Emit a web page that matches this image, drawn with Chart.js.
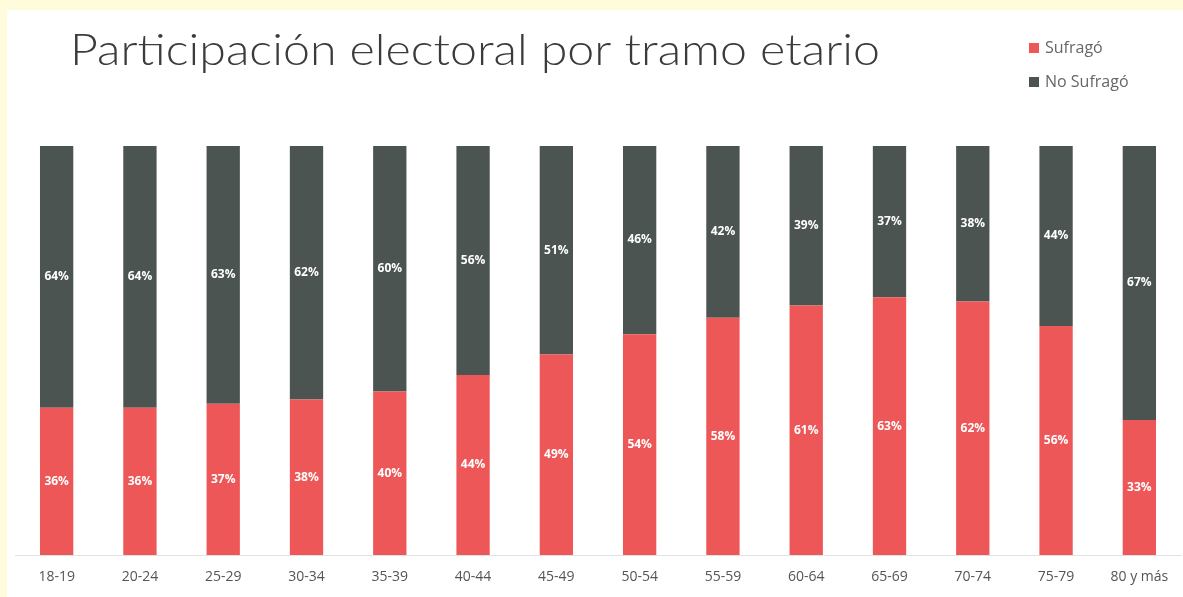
<!DOCTYPE html>
<html>
<head>
<meta charset="utf-8">
<script src="https://cdn.jsdelivr.net/npm/chart.js@4.4.0/dist/chart.umd.min.js"></script>
<style>
  html, body { margin: 0; padding: 0; background: #fffcdc; }
  #wrap { position: relative; width: 1183px; height: 597px; overflow: hidden; }
  #paper { position: absolute; left: 7px; top: 10px; width: 1176px; height: 587px; background: #ffffff; }
  #chart { position: absolute; left: 0; top: 0; }
</style>
</head>
<body>
<div id="wrap">
  <div id="paper"></div>
  <canvas id="chart" width="1183" height="597"></canvas>
</div>
<script>
const titleText = 'Participación electoral por tramo etario';
const ageGroups = ['18-19', '20-24', '25-29', '30-34', '35-39', '40-44', '45-49',
                   '50-54', '55-59', '60-64', '65-69', '70-74', '75-79', '80 y más'];
const voted = [36, 36, 37, 38, 40, 44, 49, 54, 58, 61, 63, 62, 56, 33];
const notVoted = [64, 64, 63, 62, 60, 56, 51, 46, 42, 39, 37, 38, 44, 67];
const seriesNames = ['Sufragó', 'No Sufragó'];

const RED = '#ee5757';
const DARK = '#4b5451';

// title + legend drawn by hand, the built-in ones can't sit where the original has them
const headerPlugin = {
    id: 'header',
    afterDraw(chart) {
        const ctx = chart.ctx;
        ctx.save();
        ctx.fillStyle = '#3b3b3b';
        ctx.font = '300 44px Lato, "Open Sans", sans-serif';
        ctx.textBaseline = 'alphabetic';
        ctx.textAlign = 'left';
        // original face is wider than Lato, stretch to the same span
        const w = ctx.measureText(titleText).width;
        ctx.translate(70, 65);
        ctx.scale(810 / w, 1);
        ctx.fillText(titleText, 0, 0);
        ctx.restore();

        ctx.save();
        const colors = [RED, DARK];
        ctx.font = '16px "Open Sans", sans-serif';
        ctx.textBaseline = 'middle';
        seriesNames.forEach((name, i) => {
            const y = 48 + i * 34;
            ctx.fillStyle = colors[i];
            ctx.fillRect(1029, y - 5, 10, 10);
            ctx.fillStyle = '#666666';
            ctx.fillText(name, 1045, y);
        });
        ctx.restore();
    }
};

const pctLabels = {
    id: 'pctLabels',
    afterDatasetsDraw(chart) {
        const ctx = chart.ctx;
        ctx.save();
        ctx.fillStyle = '#ffffff';
        ctx.font = 'bold 12px "Open Sans", sans-serif';
        ctx.textAlign = 'center';
        ctx.textBaseline = 'middle';
        chart.data.datasets.forEach((ds, di) => {
            const meta = chart.getDatasetMeta(di);
            meta.data.forEach((bar, i) => {
                const p = bar.getProps(['x', 'y', 'base'], true);
                ctx.fillText(ds.data[i] + '%', p.x, (p.y + p.base) / 2);
            });
        });
        ctx.restore();
    }
};

new Chart(document.getElementById('chart'), {
    type: 'bar',
    data: {
        labels: ageGroups,
        datasets: [
            { label: seriesNames[0], data: voted, backgroundColor: RED },
            { label: seriesNames[1], data: notVoted, backgroundColor: DARK },
        ],
    },
    options: {
        responsive: false,
        animation: false,
        layout: { padding: { left: 15, right: 2, top: 146, bottom: 0 } },
        datasets: { bar: { categoryPercentage: 1, barPercentage: 0.4 } },
        scales: {
            x: {
                stacked: true,
                grid: { display: false, drawTicks: false },
                border: { color: '#e2e2e2', width: 1 },
                ticks: { color: '#555555', font: { family: '"Open Sans", sans-serif', size: 14 }, padding: 14, maxRotation: 0 },
                afterFit(scale) { scale.height = 42; },
            },
            y: { stacked: true, display: false, min: 0, max: 100 },
        },
        plugins: {
            legend: { display: false },
            tooltip: { enabled: false },
        },
    },
    plugins: [headerPlugin, pctLabels],
});
</script>
</body>
</html>
